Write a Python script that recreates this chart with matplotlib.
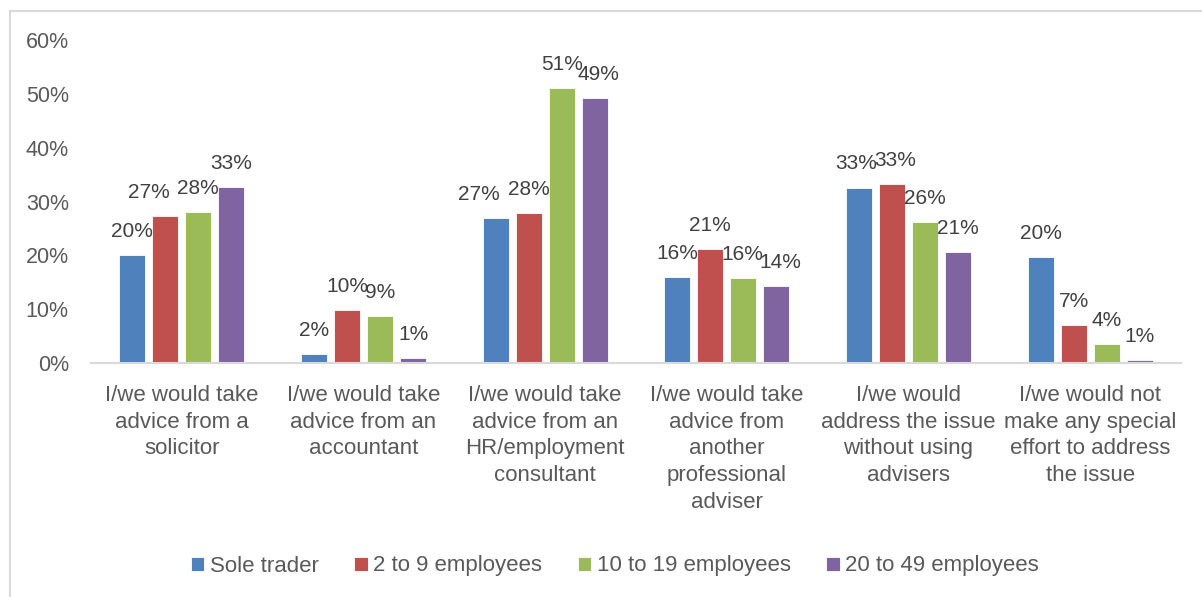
import numpy as np
import matplotlib
matplotlib.use("Agg")
import matplotlib.pyplot as plt
from matplotlib.patches import Rectangle

plt.rcParams['font.family'] = ['Liberation Sans', 'DejaVu Sans']

categories = [
    "I/we would take\nadvice from a\nsolicitor",
    "I/we would take\nadvice from an\naccountant",
    "I/we would take\nadvice from an\nHR/employment\nconsultant",
    "I/we would take\nadvice from\nanother\nprofessional\nadviser",
    "I/we would\naddress the issue\nwithout using\nadvisers",
    "I/we would not\nmake any special\neffort to address\nthe issue",
]
series_names = ["Sole trader", "2 to 9 employees", "10 to 19 employees", "20 to 49 employees"]
sole_trader = [20.0, 1.7, 27.0, 16.0, 32.6, 19.6]
emp_2_9 = [27.3, 9.8, 27.9, 21.2, 33.3, 7.1]
emp_10_19 = [28.1, 8.8, 51.0, 15.8, 26.2, 3.6]
emp_20_49 = [32.7, 1.0, 49.2, 14.3, 20.6, 0.6]
yticks = [0, 10, 20, 30, 40, 50, 60]

colors = ["#4F81BD", "#C0504D", "#9BBB59", "#8064A2"]
text_col = "#404040"
grey = "#595959"

# some value labels are shifted sideways so they don't sit on their neighbours
# (series index, category index) -> shift in points
label_nudge = {(1, 0): -11.5, (0, 2): -12, (3, 2): 3, (0, 4): -2,
               (1, 4): 2.5, (3, 3): 3, (2, 3): -1}

W, H = 1202, 597
fig = plt.figure(figsize=(W / 100, H / 100), dpi=100)

# chart frame (runs off the right and bottom edges)
fig.patches.append(Rectangle((10 / W, -0.1), 1.2, (H - 10.5) / H + 0.1,
                             transform=fig.transFigure, fill=False,
                             edgecolor="#D9D9D9", lw=1.5))

ax = fig.add_axes([91 / W, (H - 363) / H, 1090 / W, 323 / H])

x = np.arange(len(categories))
step = 0.182
width = 0.143
all_series = [sole_trader, emp_2_9, emp_10_19, emp_20_49]
for i, (vals, name, c) in enumerate(zip(all_series, series_names, colors)):
    pos = x + (i - 1.5) * step
    bars = ax.bar(pos, vals, width=width, color=c, label=name,
                  edgecolor="white", linewidth=0.6)
    for j, (b, v) in enumerate(zip(bars, vals)):
        dx = label_nudge.get((i, j), 0)
        ax.annotate(f"{v:.0f}%", (b.get_x() + b.get_width() / 2, v),
                    xytext=(dx, 13), textcoords="offset points",
                    ha="center", va="baseline", fontsize=15, color=text_col)

ax.set_xlim(-0.5, len(categories) - 0.5)
ax.set_ylim(0, 60)
ax.set_yticks(yticks)
ax.set_yticklabels([f"{t}%" for t in yticks], fontsize=15.5, color=grey)
ax.set_xticks(x)
ax.set_xticklabels(categories, fontsize=16, color=grey, linespacing=1.35, va="top")
ax.tick_params(axis="y", length=0, pad=16)
ax.tick_params(axis="x", length=0, pad=16)

for s in ["top", "right", "left"]:
    ax.spines[s].set_visible(False)
ax.spines["bottom"].set_color("#D9D9D9")
ax.spines["bottom"].set_linewidth(1.5)

fig.legend(loc="center", bbox_to_anchor=(615 / W, (H - 566) / H), ncol=4,
           frameon=False, fontsize=16, labelcolor=grey,
           handlelength=0.6, handleheight=0.6, handletextpad=0.25,
           columnspacing=1.6)

fig.savefig("out.png", dpi=100)
